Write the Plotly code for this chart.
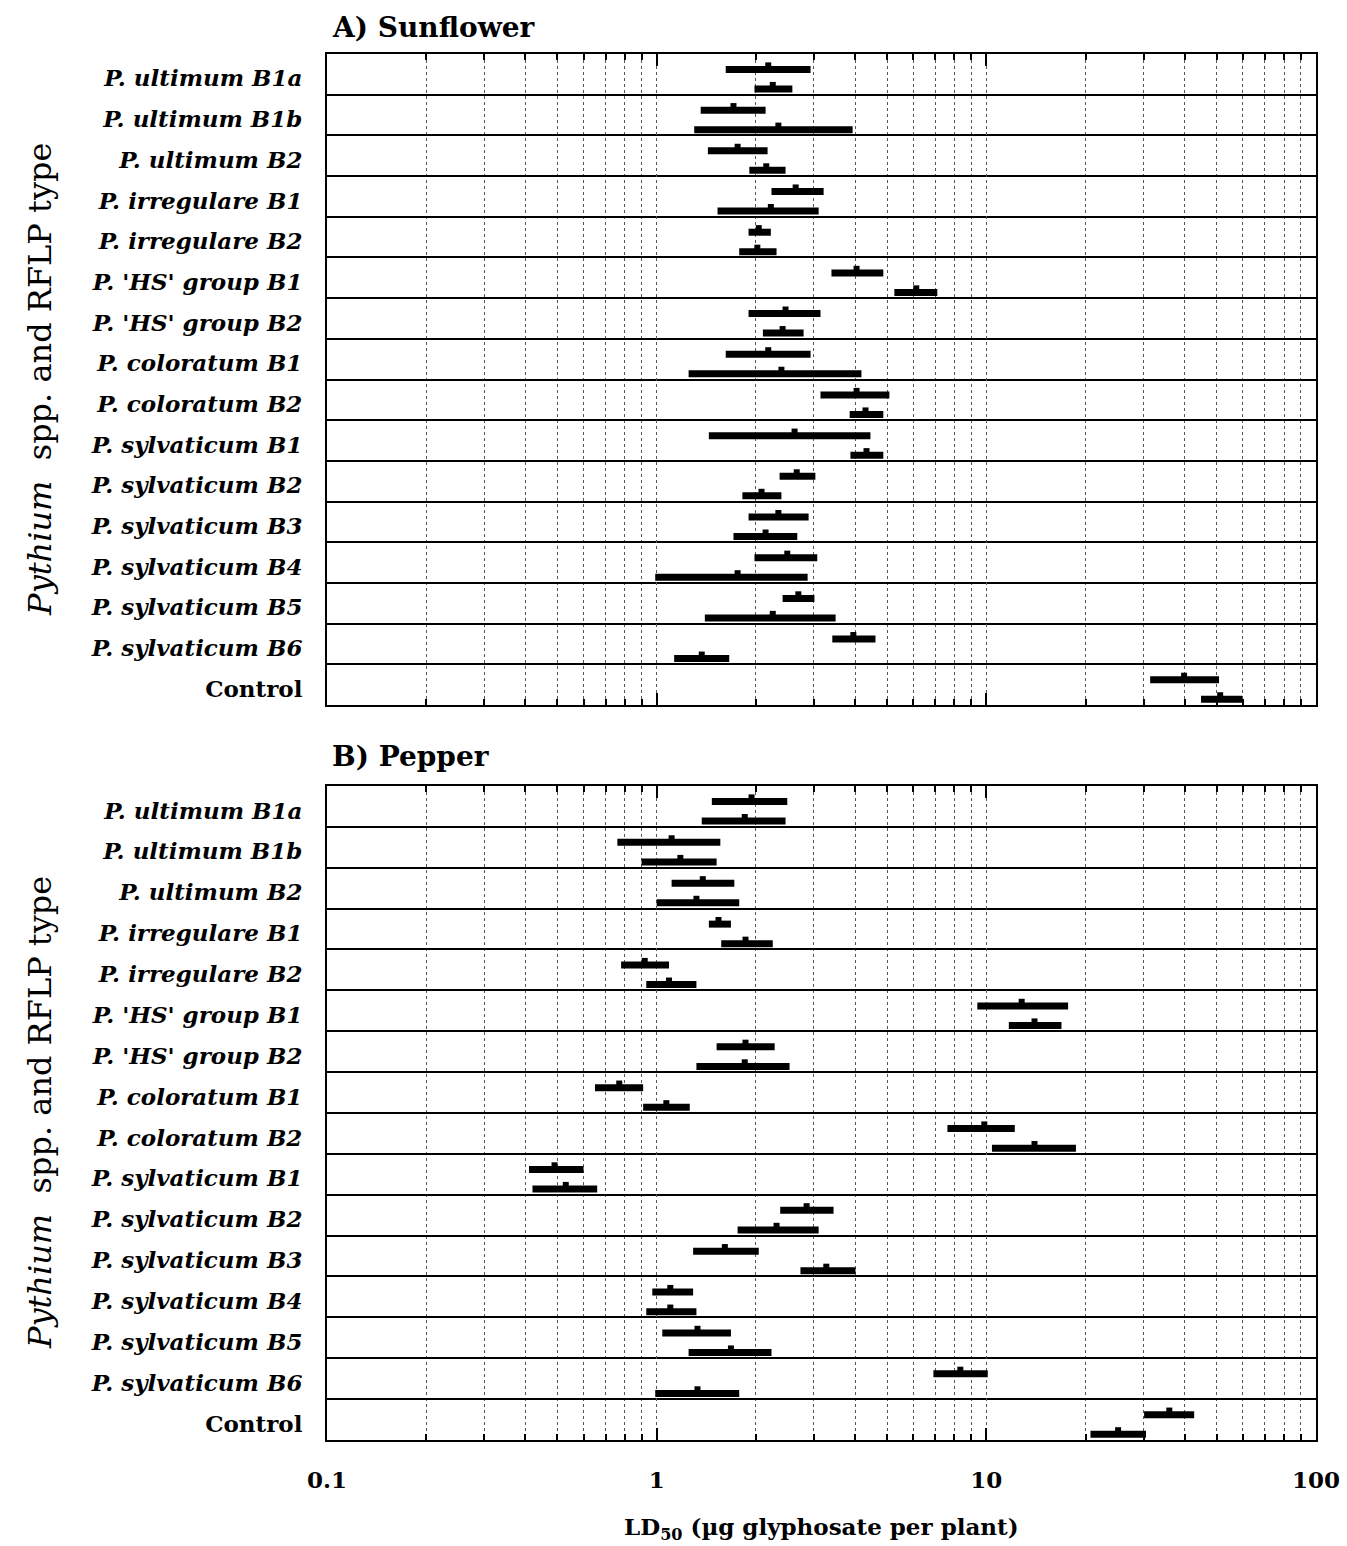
import plotly.graph_objects as go

# Isolate groups (rows, top to bottom)
categories = [
    "P. ultimum B1a", "P. ultimum B1b", "P. ultimum B2",
    "P. irregulare B1", "P. irregulare B2",
    "P. 'HS' group B1", "P. 'HS' group B2",
    "P. coloratum B1", "P. coloratum B2",
    "P. sylvaticum B1", "P. sylvaticum B2", "P. sylvaticum B3",
    "P. sylvaticum B4", "P. sylvaticum B5", "P. sylvaticum B6",
    "Control",
]

# LD50 (ug glyphosate per plant) with lower / upper confidence limits
# Sunflower, first isolate of each group
sun1_low = [1.62, 1.36, 1.43, 2.23, 1.90, 3.39, 1.90, 1.62, 3.14, 1.44, 2.36, 1.90, 1.98, 2.41, 3.41, 31.4]
sun1_ld50 = [2.18, 1.71, 1.76, 2.64, 2.04, 4.04, 2.46, 2.18, 4.04, 2.62, 2.66, 2.34, 2.49, 2.69, 3.95, 39.8]
sun1_high = [2.93, 2.14, 2.17, 3.21, 2.22, 4.87, 3.14, 2.93, 5.08, 4.45, 3.03, 2.89, 3.07, 3.01, 4.61, 50.8]
# Sunflower, second isolate
sun2_low = [1.98, 1.30, 1.91, 1.53, 1.78, 5.26, 2.10, 1.25, 3.85, 3.87, 1.82, 1.71, 0.99, 1.40, 1.13, 44.8]
sun2_ld50 = [2.25, 2.34, 2.15, 2.22, 2.02, 6.13, 2.41, 2.39, 4.30, 4.33, 2.08, 2.14, 1.76, 2.25, 1.37, 51.2]
sun2_high = [2.58, 3.93, 2.46, 3.10, 2.31, 7.10, 2.79, 4.18, 4.87, 4.87, 2.39, 2.67, 2.87, 3.49, 1.66, 59.7]

# Pepper, first isolate
pep1_low = [1.47, 0.76, 1.11, 1.44, 0.78, 9.39, 1.52, 0.65, 7.62, 0.41, 2.37, 1.29, 0.97, 1.04, 6.91, 30.1]
pep1_ld50 = [1.94, 1.11, 1.38, 1.54, 0.92, 12.8, 1.86, 0.77, 9.86, 0.49, 2.85, 1.61, 1.10, 1.33, 8.34, 35.9]
pep1_high = [2.49, 1.56, 1.72, 1.68, 1.09, 17.7, 2.28, 0.91, 12.2, 0.60, 3.44, 2.04, 1.29, 1.68, 10.1, 42.7]
# Pepper, second isolate
pep2_low = [1.37, 0.90, 1.00, 1.57, 0.93, 11.7, 1.32, 0.91, 10.4, 0.42, 1.76, 2.73, 0.93, 1.25, 0.99, 20.7]
pep2_ld50 = [1.85, 1.18, 1.32, 1.86, 1.09, 14.0, 1.85, 1.07, 14.0, 0.53, 2.31, 3.27, 1.10, 1.68, 1.33, 25.1]
pep2_high = [2.46, 1.52, 1.78, 2.25, 1.32, 16.9, 2.53, 1.26, 18.7, 0.66, 3.10, 4.01, 1.32, 2.23, 1.78, 30.5]

x_ticks = [0.1, 1, 10, 100]
x_ticktext = ["0.1", "1", "10", "100"]

SERIF = "DejaVu Serif"
n = len(categories)

fig = go.Figure()


def add_isolate(low, mid, high, offset, xa, ya):
    rows = [i + offset for i in range(n)]
    # confidence interval drawn as a thick bar
    fig.add_trace(go.Scatter(
        x=mid, y=rows, mode="markers", xaxis=xa, yaxis=ya,
        marker=dict(size=2, color="black"),
        error_x=dict(type="data", symmetric=False,
                     array=[h - m for h, m in zip(high, mid)],
                     arrayminus=[m - l for m, l in zip(mid, low)],
                     thickness=7, width=0, color="black"),
        showlegend=False, hoverinfo="skip",
    ))
    # small nub marking the LD50 estimate
    fig.add_trace(go.Scatter(
        x=mid, y=[r - 0.1 for r in rows], mode="markers", xaxis=xa, yaxis=ya,
        marker=dict(symbol="square", size=6, color="black", line=dict(width=0)),
        showlegend=False, hoverinfo="skip",
    ))


add_isolate(sun1_low, sun1_ld50, sun1_high, 0.38, "x", "y")
add_isolate(sun2_low, sun2_ld50, sun2_high, 0.86, "x", "y")
add_isolate(pep1_low, pep1_ld50, pep1_high, 0.38, "x2", "y2")
add_isolate(pep2_low, pep2_ld50, pep2_high, 0.86, "x2", "y2")

minor_vals = [m * 10 ** e for e in (-1, 0, 1) for m in range(2, 10)]

xaxis_common = dict(
    type="log", range=[-1, 2], automargin=False,
    tickvals=x_ticks, ticktext=x_ticktext,
    ticks="inside", ticklen=12, tickwidth=1.5, tickcolor="black",
    showgrid=True, gridcolor="#555", griddash="dot", gridwidth=1,
    minor=dict(tickvals=minor_vals, ticks="inside", ticklen=6, tickcolor="black",
               showgrid=True, gridcolor="#555", griddash="dot", gridwidth=1),
    showline=True, linecolor="black", linewidth=2, mirror="allticks",
    zeroline=False,
)

label_text = ["<i>" + c + "</i>" if c.startswith("P.") else c for c in categories]

yaxis_common = dict(
    range=[n, 0], tickvals=[i + 0.6 for i in range(n)], ticktext=label_text,
    ticks="", showgrid=False, zeroline=False, automargin=False,
    tickfont=dict(family=SERIF, size=23, color="black", weight="bold"),
    ticklabelstandoff=18,
    minor=dict(tickvals=list(range(1, n)), ticks="", showgrid=True,
               gridcolor="black", gridwidth=1.5),
    showline=True, linecolor="black", linewidth=2, mirror=True,
)

fig.update_layout(
    width=1347, height=1546,
    margin=dict(l=327, r=31, t=54, b=106),
    paper_bgcolor="white", plot_bgcolor="white",
    xaxis=dict(xaxis_common, anchor="y", showticklabels=False),
    yaxis=dict(yaxis_common, domain=[0.5303, 1.0], anchor="x"),
    xaxis2=dict(xaxis_common, anchor="y2", showticklabels=True,
                tickfont=dict(family=SERIF, size=23, color="black", weight="bold"),
                ticklabelstandoff=18),
    yaxis2=dict(yaxis_common, domain=[0.0, 0.4719], anchor="x2"),
)

title_font = dict(family=SERIF, size=28, color="black", weight="bold")
ytitle_font = dict(family=SERIF, size=32, color="black")

annotations = [
    dict(text="A) Sunflower", x=0.003, y=1.0188, xref="paper", yref="paper",
         xanchor="left", yanchor="middle", showarrow=False, font=title_font),
    dict(text="B) Pepper", x=0.003, y=0.4928, xref="paper", yref="paper",
         xanchor="left", yanchor="middle", showarrow=False, font=title_font),
    dict(text="<i>Pythium</i>  spp. and RFLP type", x=-0.29, y=0.765,
         xref="paper", yref="paper", xanchor="center", yanchor="middle",
         textangle=-90, showarrow=False, font=ytitle_font),
    dict(text="<i>Pythium</i>  spp. and RFLP type", x=-0.29, y=0.236,
         xref="paper", yref="paper", xanchor="center", yanchor="middle",
         textangle=-90, showarrow=False, font=ytitle_font),
    dict(text="LD<sub>50</sub> (µg glyphosate per plant)", x=0.5, y=-0.0635,
         xref="paper", yref="paper", xanchor="center", yanchor="middle",
         showarrow=False,
         font=dict(family=SERIF, size=23, color="black", weight="bold")),
]
fig.update_layout(annotations=annotations)

fig.write_html("out.html")
